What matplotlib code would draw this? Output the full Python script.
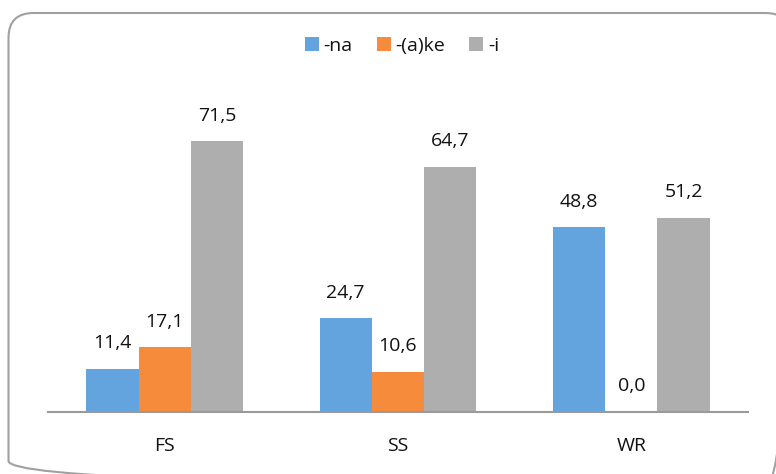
import matplotlib.pyplot as plt
import numpy as np
from matplotlib.patches import FancyBboxPatch, Patch

categories = ['FS', 'SS', 'WR']
series = ['-na', '-(a)ke', '-i']
na_vals = [11.4, 24.7, 48.8]
ake_vals = [17.1, 10.6, 0.0]
i_vals = [71.5, 64.7, 51.2]
colors = ['#63A4DF', '#F68B3B', '#AEAEAE']

plt.rcParams['font.family'] = ['Open Sans', 'DejaVu Sans']

fig = plt.figure(figsize=(7.76, 4.74), dpi=100)

# background layer in pixel units for the rounded frame
bg = fig.add_axes([0, 0, 1, 1], zorder=-1)
bg.set_xlim(0, 776)
bg.set_ylim(474, 0)
bg.axis('off')
bg.add_patch(FancyBboxPatch((8.5, 13), 782, 473,
                            boxstyle='round,pad=0,rounding_size=25',
                            facecolor='none', edgecolor='#A0A0A0', linewidth=1.5))

ax = fig.add_axes([48 / 776, 62 / 474, 700 / 776, 303 / 474])
ax.patch.set_alpha(0)

x = np.arange(len(categories))
w = 0.224
for k, (vals, c) in enumerate(zip([na_vals, ake_vals, i_vals], colors)):
    pos = x + (k - 1) * w
    ax.bar(pos, vals, width=w, color=c)
    for p, v in zip(pos, vals):
        ax.annotate(f'{v:.1f}'.replace('.', ','), (p, v), xytext=(0, 12),
                    textcoords='offset points', ha='center', va='bottom',
                    fontsize=14, color='#111111')

ax.set_xlim(-0.5, 2.5)
ax.set_ylim(0, 80)
ax.set_xticks(x)
ax.set_xticklabels(categories, fontsize=14, color='#111111')
ax.tick_params(axis='x', length=0, pad=18)
ax.set_yticks([])
for s in ['top', 'right', 'left']:
    ax.spines[s].set_visible(False)
ax.spines['bottom'].set_color('#9A9A9A')
ax.spines['bottom'].set_linewidth(1.5)

handles = [Patch(facecolor=c) for c in colors]
fig.legend(handles, series, loc='center', bbox_to_anchor=(402 / 776, 1 - 46 / 474),
           ncol=3, frameon=False, fontsize=14, handlelength=0.7, handleheight=0.7,
           handletextpad=0.25, columnspacing=1.25, labelcolor='#111111')

plt.savefig('out.png', dpi=100)
